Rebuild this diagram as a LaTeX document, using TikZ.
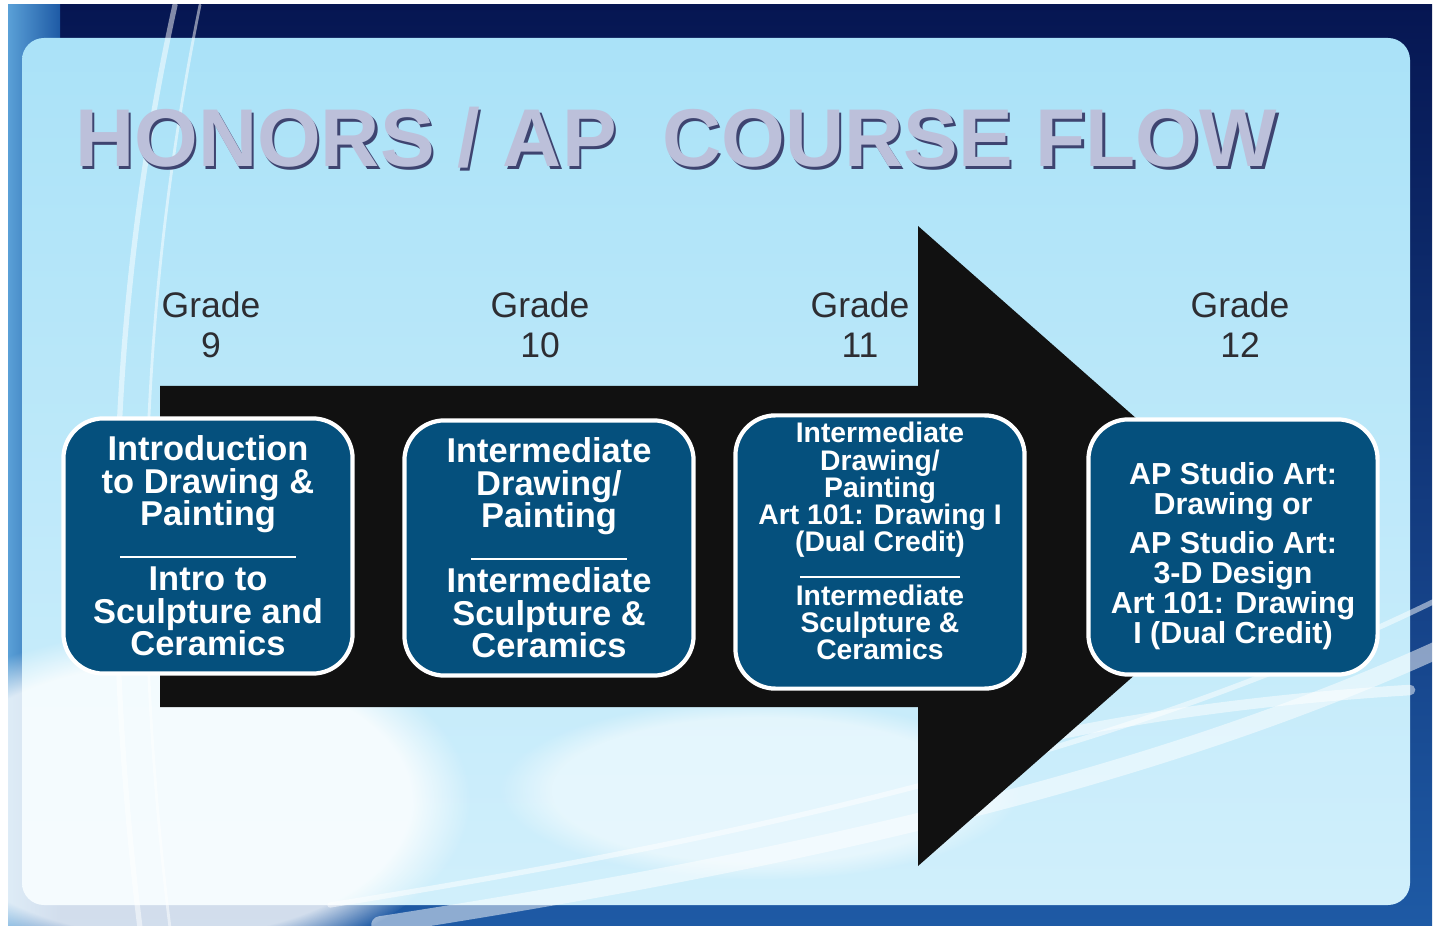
\documentclass[tikz,border=0pt]{standalone}
\usepackage{fontspec}
\setmainfont{Liberation Sans}
\usetikzlibrary{positioning,fadings}

\definecolor{framenavy}{RGB}{6,22,82}
\definecolor{framemid}{RGB}{30,90,165}
\definecolor{framelight}{RGB}{90,160,215}
\definecolor{panelblue}{RGB}{170,226,248}
\definecolor{boxblue}{RGB}{5,80,125}
\definecolor{arrowblack}{RGB}{17,17,17}
\definecolor{titlegray}{RGB}{188,192,218}
\definecolor{titleshade}{RGB}{62,68,112}
\definecolor{gradegray}{RGB}{45,45,50}

\begin{document}
\begin{tikzpicture}[x=0.01cm, y=-0.01cm]
  \tikzset{
    course/.style={rectangle, rounded corners=0.4cm, draw=white, line width=1.2pt, fill=boxblue, text=white, align=center, minimum width=2.89cm, minimum height=2.55cm, inner sep=2pt},
    bigcourse/.style={course, font=\bfseries\fontsize{9.8}{9.25}\selectfont},
    grade/.style={text=gradegray, align=center, font=\fontsize{10.1}{11.4}\selectfont},
    heading/.style={font=\bfseries\fontsize{23.3}{26}\selectfont, anchor=base},
    glow/.style={white, line cap=round, opacity=0.5}
  }

  \def\arrowpath{(160,386) -- (918,386) -- (918,226) -- (1281,546) -- (918,866) -- (918,707) -- (160,707) -- cycle}
  \def\seprule#1{\rule{#1}{0.6pt}}

  \useasboundingbox (0,0) rectangle (1437,928);
  \fill[white] (0,0) rectangle (1437,928);
  \shade[top color=framenavy, bottom color=framemid] (8,5) rectangle (1432,925);
  \shade[left color=framelight, right color=framemid] (8,5) rectangle (60,925);
  \shade[rounded corners=0.22cm, top color=panelblue, bottom color=panelblue!55!white] (22,38) rectangle (1410,905);
  \fill[white, path fading=circle with fuzzy edge 20 percent, opacity=0.8] (170,800) ellipse [x radius=300, y radius=170];
  \fill[white, path fading=circle with fuzzy edge 20 percent, opacity=0.5] (760,790) ellipse [x radius=260, y radius=90];
  \draw[glow, line width=1.5pt] (175,5) .. controls (110,300) and (100,600) .. (140,928);
  \draw[glow, line width=0.8pt] (200,5) .. controls (140,300) and (130,600) .. (170,928);
  \draw[glow, line width=5pt] (380,925) .. controls (800,860) and (1150,780) .. (1437,650);
  \draw[glow, line width=1.5pt] (330,905) .. controls (800,830) and (1150,740) .. (1437,600);
  \draw[glow, line width=3pt] (950,760) .. controls (1100,720) and (1250,700) .. (1410,690);

  \node (titleshadow) [heading, text=titleshade] at (678.5,169.5) {HONORS / AP\ \ COURSE FLOW};
  \node (title) [heading, text=titlegray] at (676,167) {HONORS / AP\ \ COURSE FLOW};

  \fill[arrowblack] \arrowpath;

  \node (g9) [grade] at (211,325) {Grade\\9};
  \node (g10) [grade] at (540,325) {Grade\\10};
  \node (g11) [grade] at (860,325) {Grade\\11};
  \node (g12) [grade] at (1240,325) {Grade\\12};

  \node (intro) [bigcourse] at (208,546) {Introduction\\to Drawing \&\\Painting\\\seprule{1.76cm}\\Intro to\\Sculpture and\\Ceramics};
  \node (inter) [bigcourse] at (549,548) {Intermediate\\Drawing/\\Painting\\\seprule{1.56cm}\\Intermediate\\Sculpture \&\\Ceramics};
  \node (dual) [course, minimum height=2.67cm, font=\bfseries\fontsize{8.05}{7.7}\selectfont] at (880,552) {Intermediate\\Drawing/\\Painting\\Art 101: Drawing I\\(Dual Credit)\\\seprule{1.6cm}\\Intermediate\\Sculpture \&\\Ceramics\rule[-0.22cm]{0pt}{0pt}};
  \node (apart) [course, font=\bfseries\fontsize{8.65}{8.5}\selectfont] at (1233,547) {\rule{0pt}{0.4cm}AP Studio Art:\\Drawing or\\[2.6pt]AP Studio Art:\\3-D Design\\Art 101: Drawing\\I (Dual Credit)};
\end{tikzpicture}
\end{document}
